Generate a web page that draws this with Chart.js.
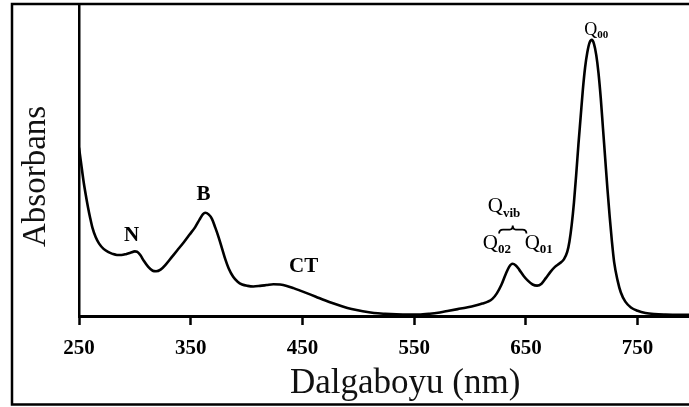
<!DOCTYPE html>
<html lang="tr">
<head>
  <meta charset="UTF-8">
  <title>Absorbans spektrumu</title>
  <style>
    html, body { margin: 0; padding: 0; background: #fff; }
    .canvas_box { width: 689px; height: 407px; }
  </style>
  <script src="https://cdn.jsdelivr.net/npm/chart.js@4.4.6/dist/chart.umd.min.js"></script>
</head>
<body>
<div class="canvas_box">
  <canvas id="myChart" width="689" height="407"></canvas>
</div>
<script>
// wavelength (nm) and absorbance (arbitrary units, Q00 peak = 1)
var wavelength = [
  250, 252, 254, 256, 258, 260, 262, 265, 268, 272, 276, 280, 284, 288, 292, 296, 300, 302,
  305, 308, 312, 316, 319, 323, 328, 333, 338, 344, 349, 354, 358, 361, 363, 366, 369, 372,
  375, 378, 381, 384, 388, 392, 396, 401, 406, 412, 418, 424, 430, 436, 442, 448, 455, 462,
  470, 478, 486, 494, 504, 514, 524, 534, 544, 554, 564, 573, 581, 589, 597, 604, 611, 616,
  620, 624, 628, 632, 635, 638, 641, 644, 648, 652, 656, 660, 664, 668, 672, 676, 680, 684,
  687, 689, 691, 693, 695, 697, 699, 701, 703, 705, 707, 709, 711, 713, 715, 717, 719, 721,
  723, 725, 727, 729, 732, 735, 739, 744, 750, 757, 765, 775, 786, 796
];
var absorbance = [
  0.61, 0.55, 0.49, 0.44, 0.395, 0.355, 0.32, 0.285, 0.262, 0.243, 0.232, 0.225, 0.221, 0.221, 0.224, 0.229, 0.234, 0.233,
  0.22, 0.2, 0.178, 0.164, 0.162, 0.168, 0.188, 0.213, 0.238, 0.268, 0.295, 0.322, 0.35, 0.369, 0.374, 0.368, 0.352, 0.32,
  0.285, 0.245, 0.205, 0.172, 0.142, 0.124, 0.114, 0.109, 0.107, 0.109, 0.112, 0.115, 0.114, 0.109, 0.101, 0.092, 0.081, 0.07,
  0.057, 0.045, 0.034, 0.025, 0.017, 0.011, 0.008, 0.006, 0.005, 0.005, 0.008, 0.013, 0.019, 0.025, 0.031, 0.037, 0.045, 0.052,
  0.062, 0.082, 0.112, 0.152, 0.178, 0.189, 0.183, 0.168, 0.145, 0.127, 0.114, 0.11, 0.117, 0.138, 0.16, 0.178, 0.19, 0.205,
  0.232, 0.27, 0.33, 0.41, 0.51, 0.62, 0.72, 0.82, 0.9, 0.955, 0.99, 1.0, 0.985, 0.945, 0.88, 0.79, 0.68, 0.57,
  0.46, 0.36, 0.27, 0.195, 0.13, 0.085, 0.052, 0.031, 0.019, 0.011, 0.007, 0.005, 0.004, 0.004
];
var xTicks = [250, 350, 450, 550, 650, 750];

// band labels: [text, subscript, nm, absorbance, bold, size]
var bandLabels = [
  ['N', '', 297, 0.293, true, 21],
  ['B', '', 361.5, 0.438, true, 21],
  ['CT', '', 451, 0.178, true, 21],
  ['Q', 'vib', 630.5, 0.395, false, 21],
  ['Q', '02', 624, 0.264, false, 21],
  ['Q', '01', 661.5, 0.264, false, 21],
  ['Q', '00', 713, 1.036, false, 18]
];

var serif = "'Liberation Serif', 'Times New Roman', serif";

var decor = {
  id: 'decor',
  afterDraw: function(chart) {
    var c = chart.ctx, xs = chart.scales.x, ys = chart.scales.y;
    c.save();
    // outer frame (right side is cropped in the original)
    c.strokeStyle = '#000';
    c.lineWidth = 2.5;
    c.beginPath();
    c.moveTo(700, 4); c.lineTo(12, 4); c.lineTo(12, 404.5); c.lineTo(700, 404.5);
    c.stroke();

    // axis titles
    c.fillStyle = '#111';
    c.font = '35px ' + serif;
    c.textAlign = 'left';
    c.textBaseline = 'alphabetic';
    c.fillText('Dalgaboyu (nm)', 290, 393);
    c.save();
    c.translate(45, 247);
    c.rotate(-Math.PI / 2);
    c.font = '33px ' + serif;
    c.fillText('Absorbans', 0, 0);
    c.restore();

    // band labels
    c.fillStyle = '#000';
    bandLabels.forEach(function(l) {
      var px = xs.getPixelForValue(l[2]), py = ys.getPixelForValue(l[3]);
      var big = l[5];
      var sub = Math.round(big * 0.62);
      var f1 = (l[4] ? 'bold ' : '') + big + 'px ' + serif;
      var f2 = 'bold ' + sub + 'px ' + serif;
      c.font = f1;
      var w1 = c.measureText(l[0]).width;
      c.font = f2;
      var w2 = l[1] ? c.measureText(l[1]).width : 0;
      var x0 = px - (w1 + w2) / 2;
      c.textAlign = 'left';
      c.textBaseline = 'middle';
      c.font = f1;
      c.fillText(l[0], x0, py);
      if (l[1]) {
        c.font = f2;
        c.fillText(l[1], x0 + w1, py + big * 0.3);
      }
    });

    // brace under Qvib
    var bx1 = xs.getPixelForValue(626), bx2 = xs.getPixelForValue(650.5);
    var by = ys.getPixelForValue(0.313), bm = (bx1 + bx2) / 2;
    c.lineWidth = 1.8;
    c.beginPath();
    c.moveTo(bx1, by + 4);
    c.quadraticCurveTo(bx1, by, bx1 + 4, by);
    c.lineTo(bm - 3, by);
    c.quadraticCurveTo(bm, by, bm, by - 4);
    c.quadraticCurveTo(bm, by, bm + 3, by);
    c.lineTo(bx2 - 4, by);
    c.quadraticCurveTo(bx2, by, bx2, by + 4);
    c.stroke();
    c.restore();
  }
};

var ctx = document.getElementById('myChart');
var myChart = new Chart(ctx, {
  type: 'line',
  data: {
    datasets: [{
      data: wavelength.map(function(w, i) { return { x: w, y: absorbance[i] }; }),
      borderColor: '#000',
      borderWidth: 2.6,
      pointRadius: 0,
      fill: false,
      cubicInterpolationMode: 'monotone'
    }]
  },
  options: {
    responsive: false,
    animation: false,
    layout: { padding: { left: 0, right: 0, top: 4, bottom: 0 } },
    plugins: {
      legend: { display: false },
      tooltip: { enabled: false }
    },
    scales: {
      x: {
        type: 'linear',
        min: 250,
        max: 796,
        afterBuildTicks: function(scale) {
          scale.ticks = xTicks.map(function(v) { return { value: v }; });
        },
        afterFit: function(scale) { scale.height = 91; },
        grid: {
          drawOnChartArea: false,
          drawTicks: true,
          tickLength: 9,
          tickWidth: 2.5,
          tickColor: '#000'
        },
        border: { display: true, color: '#000', width: 3 },
        ticks: {
          padding: 11,
          color: '#000',
          maxRotation: 0,
          font: { family: serif, size: 21, weight: 'bold' }
        }
      },
      y: {
        min: 0,
        max: 1.13,
        afterFit: function(scale) { scale.width = 79; },
        grid: { display: false, drawTicks: false },
        border: { display: true, color: '#000', width: 2.5 },
        ticks: { display: false }
      }
    }
  },
  plugins: [decor]
});
</script>
</body>
</html>
